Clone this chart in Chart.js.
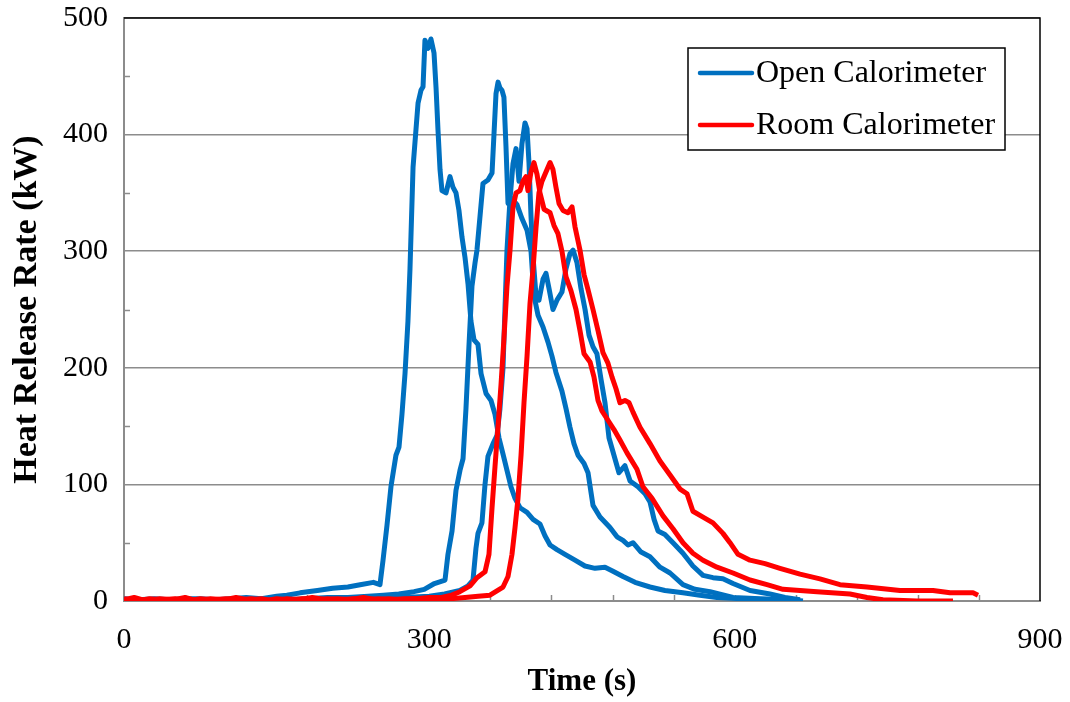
<!DOCTYPE html>
<html lang="en">
<head>
<meta charset="UTF-8">
<title>Heat Release Rate</title>
<script src="https://cdn.jsdelivr.net/npm/chart.js@4.4.1/dist/chart.umd.min.js"></script>
<style>
  html, body { margin: 0; padding: 0; background: #fff; }
  #grafico { display: block; }
</style>
</head>
<body>
<canvas id="grafico" width="1070" height="702"></canvas>
<script>
// Datos (tiempo en s, HRR en kW)
const open1Time = [0,15,30,45,60,75,90,105,120,135,150,160,173,190,205,220,232,245,251.5,254.5,258.4,262.3,267.2,270.2,273.1,276.1,279,281,284,288.9,291.8,293.8,295.7,298.7,301.6,304.6,306.6,308.5,310.5,312.4,316.4,320.3,323.2,326.2,329.1,332.1,335,338,340.9,343.9,347.8,350.8,355.7,360.6,364.5,368.4,372.4,376.3,380.2,384.2,389.1,396,401.9,408.7,413.6,418.6,425.4,433.3,443.1,452.9,462.8,472.6,479.5,490.3,502.1,516.8,531.5,549.2,565.9,582.6,605.2,634.7,654.4];
const open1Hrr = [2,1,2,1,2,2,1,2,3,2,4,5,7,9,11,12,14,16,14,35,65,98,125,132,160,195,240,285,372,427,438,441,481,474,482,470,440,404,370,352,350,364,355,350,335,312,295,272,240,224,220,195,178,172,160,140,126,112,98,88,80,76,70,66,56,48,44,40,35,30,28,29,26,21,16,12,9,7,5,3,2,1,1];

const open2Time = [0,20,40,60,80,100,120,140,160,180,200,220,240,255,270,285,295,305,315.4,318.3,322.3,326.2,330.1,333.1,336,339,341.9,344.9,346.8,349.8,352.7,357.6,361.6,363.5,365.5,367.5,369.4,371.4,373.3,375.3,377.3,381.2,386.1,391,396,399.9,402.8,406.8,411.7,416.6,420.5,424.4,430.3,434.3,438.2,442.1,446.1,452,455.9,460.8,467.7,477.5,484.4,490.3,495.2,500.1,508,516.8,526.6,536.5,549.2,561,575.8,598.4,624.9,654.4,667.1];
const open2Hrr = [1,0,1,1,0,1,1,2,1,2,3,3,4,5,6,8,10,15,18,40,60,95,112,122,165,220,270,290,301,330,358,361,367,400,435,445,440,438,432,390,341,345,340,328,318,300,262,245,235,222,210,196,180,165,149,135,125,118,110,82,72,63,55,52,48,50,42,38,29,24,14,10,8,3,2,1,0];

const open3Time = [0,25,50,75,100,125,150,175,200,225,250,275,300,315,330,338,342.9,345.8,347.8,351.7,354.7,357.6,362.6,366.5,369.4,372.4,374.3,376.3,379.3,382.2,385.2,388.1,391,394,396,397.9,399.9,401.9,404.8,407.7,411.7,414.6,417.6,421.5,425.4,430.3,434.3,438.2,441.2,445.1,449,453,456.9,460.8,464.7,468.7,472.6,476.5,481.4,486.3,492.2,497.2,505,511.9,516.8,520.8,524.7,531.5,539.4,549.2,559,568.9,578.7,588.5,598.4,615.1,634.7,649.4,664.2];
const open3Hrr = [1,0,1,1,0,1,1,1,2,1,2,3,4,6,9,13,18,45,58,67,100,124,135,142,165,200,250,301,345,375,388,360,392,410,405,376,330,295,262,258,276,281,268,250,258,265,285,298,301,290,268,250,228,218,212,190,170,140,125,110,116,103,98,92,85,70,60,57,50,41,30,22,20,19,15,9,6,3,1];

const room1Time = [0,12,25,37,50,62,75,87,100,112,125,137,150,162,175,187,200,212,225,237,250,262,275,287,300,312,322,330,340,346.8,354.7,358.6,361.6,364.5,367.5,370.4,373.3,376.3,379.3,382.2,385.2,389.1,392,395,396.9,399.9,402.8,405.8,408.7,412.7,418.6,422.5,426.4,430.3,434.3,439.2,444.1,448,452,457.9,461.8,465.7,469.6,475.5,481.4,487.3,494.2,504,509.9,518.8,529.6,539.4,549.2,559,568.9,582.6,598.4,615.1,631.8,647.5,664.2,680.9,713.3,730,745.7,779.1,814.5];
const room1Hrr = [2,0,2,1,2,0,2,1,2,1,2,0,2,1,2,1,2,1,2,1,2,1,2,2,3,3,5,8,13,20,25,40,80,115,150,185,225,270,301,338,350,352,360,364,352,368,376,366,350,336,333,322,315,300,278,266,250,232,212,205,192,172,163,155,147,138,127,113,98,88,73,62,50,41,35,29,24,18,14,10,9,8,6,3,1,0,0];

const room2Time = [0,10,22,35,48,60,72,85,98,110,122,135,148,160,172,185,198,210,222,235,248,260,272,285,298,310,322,335,348,359.6,372.4,377.3,381.2,384.2,387.1,390.1,393,396,398.9,401.9,404.8,407.7,410.7,414.6,418.6,421.5,424.4,427.4,431.3,436.2,440.2,443.1,448,452,455.9,460.8,465.7,470.6,475.5,479.5,483.4,487.3,492.2,496.2,500.1,507,516.8,526.6,536.5,546.3,553.2,559,568.9,578.7,588.5,595.4,603.3,615.1,629.8,644.5,664.2,683.8,703.5,730,762.4,794.9,811.6,834.2,839.1];
const room2Hrr = [1,3,0,2,1,3,0,2,1,3,1,2,0,2,1,3,1,2,1,3,1,2,1,2,1,2,2,3,4,5,12,21,40,63,88,125,170,210,255,285,320,350,360,368,376,370,355,341,335,333,338,321,301,280,267,250,232,213,204,192,182,170,172,170,162,149,135,120,108,96,92,77,72,67,58,50,40,35,32,28,23,19,14,12,9,9,7,7,5];

// Etiquetas y marcas de los ejes
const legendLabels = ['Open Calorimeter', 'Room Calorimeter'];
const xTickStep = 300;
const yTickStep = 50;
const xMinorTicks = [60,120,180,240,300,360,420,480,540,600,660,720,780,840];
const yMinorTicks = [50,150,250,350,450];

const AZUL = '#0070C0';
const ROJO = '#FF0000';
const FUENTE = 'Liberation Serif, "Times New Roman", serif';

// Une los arreglos de tiempo y valor en puntos {x, y}
function armarPuntos(tiempos, valores) {
    return tiempos.map((t, i) => ({ x: t, y: valores[i] }));
}

function serie(tiempos, valores, color, orden) {
    return {
        data: armarPuntos(tiempos, valores),
        borderColor: color,
        backgroundColor: color,
        borderWidth: 5,
        borderJoinStyle: 'round',
        pointRadius: 0,
        tension: 0,
        fill: false,
        order: orden
    };
}

// Marcas menores y borde superior/derecho del área de trazado
const marcasEjes = {
    id: 'marcasEjes',
    beforeDatasetsDraw(chart) {
        const { ctx, chartArea, scales } = chart;
        ctx.save();
        ctx.strokeStyle = '#8c8c8c';
        ctx.lineWidth = 1.5;
        xMinorTicks.forEach(v => {
            const px = Math.round(scales.x.getPixelForValue(v)) + 0.5;
            ctx.beginPath();
            ctx.moveTo(px, chartArea.bottom);
            ctx.lineTo(px, chartArea.bottom - 6);
            ctx.stroke();
        });
        yMinorTicks.forEach(v => {
            const py = Math.round(scales.y.getPixelForValue(v)) + 0.5;
            ctx.beginPath();
            ctx.moveTo(chartArea.left, py);
            ctx.lineTo(chartArea.left + 6, py);
            ctx.stroke();
        });
        ctx.strokeStyle = '#000';
        ctx.lineWidth = 1.5;
        ctx.beginPath();
        ctx.moveTo(chartArea.left, chartArea.top);
        ctx.lineTo(chartArea.right, chartArea.top);
        ctx.lineTo(chartArea.right, chartArea.bottom);
        ctx.stroke();
        ctx.restore();
    }
};

// Leyenda con recuadro dentro del área de trazado
const leyendaCaja = {
    id: 'leyendaCaja',
    afterDraw(chart) {
        const { ctx, chartArea } = chart;
        const colores = [AZUL, ROJO];
        const izq = chartArea.right - 352;
        const arriba = chartArea.top + 30;
        const ancho = 317;
        const alto = 102;
        ctx.save();
        ctx.fillStyle = '#fff';
        ctx.fillRect(izq, arriba, ancho, alto);
        ctx.strokeStyle = '#000';
        ctx.lineWidth = 1.5;
        ctx.strokeRect(izq, arriba, ancho, alto);
        ctx.font = '32px ' + FUENTE;
        ctx.textBaseline = 'middle';
        legendLabels.forEach((texto, i) => {
            const y = arriba + 25 + i * 52;
            ctx.strokeStyle = colores[i];
            ctx.lineWidth = 4.5;
            ctx.lineCap = 'round';
            ctx.beginPath();
            ctx.moveTo(izq + 12, y);
            ctx.lineTo(izq + 64, y);
            ctx.stroke();
            ctx.fillStyle = '#000';
            ctx.fillText(texto, izq + 68, y + 1);
        });
        ctx.restore();
    }
};

const canvas = document.getElementById('grafico');

new Chart(canvas, {
    type: 'line',
    data: {
        datasets: [
            serie(open1Time, open1Hrr, AZUL, 2),
            serie(open2Time, open2Hrr, AZUL, 2),
            serie(open3Time, open3Hrr, AZUL, 2),
            serie(room1Time, room1Hrr, ROJO, 1),
            serie(room2Time, room2Hrr, ROJO, 1)
        ]
    },
    options: {
        responsive: false,
        animation: false,
        devicePixelRatio: 1,
        layout: { padding: { top: 18, right: 30, bottom: 0, left: 0 } },
        plugins: {
            legend: { display: false },
            tooltip: { enabled: false }
        },
        scales: {
            x: {
                type: 'linear',
                min: 0,
                max: 900,
                // alto fijo del eje y sin relleno extra a los lados
                afterFit: s => { s.height = 101; s.paddingLeft = 0; s.paddingRight = 0; },
                ticks: {
                    stepSize: xTickStep,
                    color: '#000',
                    padding: 21,
                    maxRotation: 0,
                    font: { family: FUENTE, size: 30 }
                },
                grid: { display: false, drawTicks: false },
                border: { color: '#8c8c8c', width: 2 },
                title: {
                    display: true,
                    text: 'Time (s)',
                    color: '#000',
                    padding: { top: 0, bottom: 1 },
                    font: { family: FUENTE, size: 31, weight: 'bold' }
                }
            },
            y: {
                min: 0,
                max: 500,
                afterFit: s => { s.width = 124; s.paddingTop = 0; s.paddingBottom = 0; },
                ticks: {
                    stepSize: yTickStep,
                    autoSkip: false,
                    color: '#000',
                    padding: 16,
                    font: { family: FUENTE, size: 30 },
                    callback: v => (v % 100 === 0 ? v : '')
                },
                grid: {
                    drawTicks: false,
                    lineWidth: 1.5,
                    color: ctx => (ctx.tick && ctx.tick.value % 100 === 0 ? '#8c8c8c' : 'rgba(0,0,0,0)')
                },
                border: { color: '#8c8c8c', width: 2 },
                title: {
                    display: true,
                    text: 'Heat Release Rate (kW)',
                    color: '#000',
                    padding: { top: 7, bottom: 0 },
                    font: { family: FUENTE, size: 34, weight: 'bold' }
                }
            }
        }
    },
    plugins: [marcasEjes, leyendaCaja]
});
</script>
</body>
</html>
